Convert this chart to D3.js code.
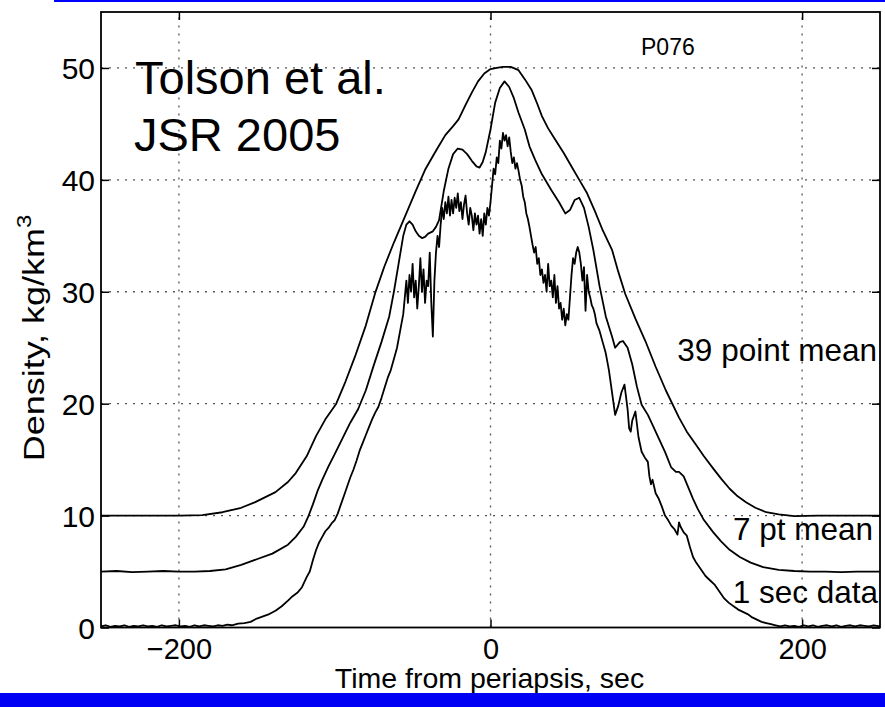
<!DOCTYPE html>
<html><head><meta charset="utf-8">
<script src="https://cdn.jsdelivr.net/npm/d3@7"></script>
<style>html,body{margin:0;padding:0;background:#fff;}svg{display:block;font-family:"Liberation Sans",Arial,Helvetica,sans-serif;}</style>
</head><body>
<svg id="c" width="885" height="707"></svg>
<script>
// ---- data ----
const xTicks = [-200, 0, 200];
const yTicks = [0, 10, 20, 30, 40, 50];
const xTickLabels = ["\u2212200", "0", "200"];
const yTickLabels = ["0", "10", "20", "30", "40", "50"];

// 1 sec data
const t1 = [-250,-247,-244,-241,-238,-235,-232,-229,-226,-223,-220,-217,-214,-211,-208,-205,-202,-199,-196,-193,-190,-187,-184,-181,-178,-175,-172,-169,-166,-162,-158,-154,-150,-146,-142,-138,-134,-130,-127,-124,-121,-118,-116,-114,-112,-110,-108,-106,-104,-102,-100,-98,-96,-94,-92,-90,-88,-86,-84,-82,-80,-78,-76,-74,-72,-70,-68,-66,-64,-62,-60,-58,-56,-55,-54,-53,-52,-51,-50,-49,-48,-47,-46,-45,-44,-43,-42,-41,-40,-39,-38,-37,-36,-35,-34,-33,-32,-31,-30,-29,-28,-27,-26,-25,-24,-23,-22,-21,-20,-19,-18,-17,-16,-15,-14,-13,-12,-11,-10,-9,-8,-7,-6,-5,-4,-3,-2,-1,0,1,2,3,4,5,6,7,8,9,10,11,12,13,14,15,16,17,18,19,20,21,22,23,24,25,26,27,28,29,30,31,32,33,34,35,36,37,38,39,40,41,42,43,44,45,46,47,48,49,50,51,52,53,54,55,56,57,58,59,60,61,62,63,64,65,66,67,68,70,72,74,76,78,80,82,84,86,88,89,90,91,93,95,97,99,101,102,103,104,106,108,110,112,114,116,118,120,121,122,124,126,128,130,132,135,138,141,144,147,150,153,156,159,162,165,168,171,174,177,180,183,186,189,192,195,198,201,204,207,210,213,216,219,222,225,228,231,234,237,240,243,246,250];
const v1 = [0.1,0.2,0.05,0.15,0.1,0.2,0.05,0.15,0.1,0.2,0.1,0.15,0.05,0.2,0.1,0.15,0.2,0.1,0.15,0.05,0.2,0.1,0.2,0.15,0.1,0.2,0.15,0.25,0.2,0.35,0.4,0.5,0.8,1.0,1.2,1.5,1.9,2.4,2.8,3.1,3.6,4.5,5.0,6.0,6.9,7.6,8.1,8.6,8.9,9.3,9.6,10.2,11.0,11.8,12.6,13.4,14.1,14.9,15.8,16.5,17.2,17.9,18.6,19.2,19.7,20.5,21.4,22.3,23.0,24.0,25.0,26.5,28.0,29.5,31.0,29.0,31.5,30.0,32.5,29.5,31.0,28.5,30.5,33.0,30.0,32.0,29.0,31.0,30.5,33.5,29.0,26.0,31.0,33.5,35.0,34.0,36.0,37.5,36.5,38.0,37.0,38.5,36.8,38.2,37.0,38.4,37.5,38.8,37.2,38.0,36.5,37.8,38.6,37.0,36.0,37.5,36.8,35.5,37.0,36.0,36.8,35.2,36.5,35.0,37.0,36.0,37.5,36.8,38.0,39.5,41.0,40.5,42.0,41.5,43.5,42.8,44.2,43.5,44.0,43.0,43.8,42.5,41.5,42.0,41.0,41.5,40.8,40.0,39.5,38.5,38.0,37.0,36.5,35.8,35.0,34.2,33.5,34.0,32.5,33.0,31.5,32.0,30.8,31.5,30.0,32.5,30.5,31.0,29.5,31.5,29.0,30.5,28.5,29.0,27.5,28.5,27.0,28.0,27.5,29.5,31.5,33.0,32.5,33.5,34.0,33.5,32.5,31.0,32.2,28.3,31.5,30.0,29.5,28.8,28.5,28.0,27.2,26.5,25.5,24.5,23.0,21.0,19.0,19.8,21.0,21.7,19.5,17.8,17.5,18.5,19.3,17.0,15.7,15.2,14.8,13.5,12.8,13.2,12.0,11.5,10.8,10.0,9.6,9.1,8.8,8.3,9.4,9.0,8.5,8.2,7.2,6.3,5.8,5.2,4.6,4.2,3.8,3.2,2.6,2.2,1.9,1.6,1.4,1.2,0.9,0.7,0.5,0.4,0.3,0.2,0.1,0.2,0.1,0.15,0.05,0.2,0.1,0.2,0.05,0.15,0.2,0.1,0.2,0.05,0.15,0.2,0.1,0.2,0.15,0.1,0.2,0.1];

// 7 pt mean (plotted with +5 offset as in the figure)
const t7 = [-250,-240,-230,-220,-210,-200,-190,-180,-170,-160,-150,-140,-130,-125,-120,-117,-114,-111,-108,-104,-100,-95,-90,-85,-80,-75,-70,-65,-62,-59,-56,-54,-52,-50,-48,-46,-44,-42,-40,-37,-35,-33,-30,-27,-24,-21,-18,-15,-12,-9,-7,-5,-3,0,3,6,9,12,15,18,22,25,28.6,33,39,44,48,51,54,57,60,63,66,70,74,78,80,83,85,88,91,94,97,101,104,108,112,116,119,121,124,127,130,133,137,143,148,153,160,167,175,185,195,205,215,225,235,250];
const v7 = [5.0,5.05,4.95,5.0,5.05,5.0,5.0,5.05,5.2,5.6,6.1,6.6,7.4,8.1,9.0,9.9,11.0,12.2,13.2,14.4,15.5,16.9,18.3,19.5,21.2,23.4,25.5,27.8,30.0,32.5,35.0,36.0,36.3,36.0,35.4,35.0,34.8,34.9,35.2,35.4,35.8,36.4,39.0,41.0,42.3,42.8,42.7,42.3,41.7,41.2,41.1,41.6,42.5,44.5,46.9,48.2,48.8,48.3,47.3,46.0,44.5,43.0,41.8,40.5,39.1,38.0,37.0,37.3,38.2,38.4,37.5,35.8,33.75,30.5,27.8,26.0,25.0,25.5,25.6,25.0,23.5,21.5,19.9,19.0,18.1,16.9,15.7,14.3,13.9,13.9,13.5,12.5,11.5,10.6,9.6,8.5,7.7,7.0,6.3,5.8,5.4,5.15,5.05,5.0,5.0,4.95,5.0,5.0];

// 39 point mean (plotted with +10 offset as in the figure)
const t39 = [-250,-200,-185,-172,-160,-151,-138,-130,-125,-118,-112,-106,-99,-93,-87,-80,-74,-68,-62,-55,-48,-42,-35,-29,-24,-20.5,-16,-12,-8,-4,0,4,8,13,18,22,26.5,30,33,37,41.5,47,52,57,62,67,72,78,82,86.5,93,99.4,106,112.5,121,126,132,137,143,148,153.5,158,164,170,177,185,195,210,250];
const v39 = [10,10,10.05,10.3,10.7,11.2,12.1,13.0,13.8,15.3,17.1,18.6,20.0,22.0,24.2,27.0,29.9,32.3,34.4,36.7,39.0,40.9,42.6,44.0,44.8,45.4,46.7,47.8,48.8,49.5,49.9,50.0,50.1,50.1,49.8,49.0,48.0,46.8,45.7,44.6,43.6,42.4,41.2,40.0,38.8,37.2,35.5,33.75,31.8,29.8,27.6,25.6,23.3,21.2,18.75,17.5,16.3,15.3,14.2,13.3,12.4,11.8,11.2,10.7,10.3,10.1,9.95,10.0,10.0];

const seriesLabels = ["39 point mean", "7 pt mean", "1 sec data"];

// ---- drawing ----
const svg = d3.select("#c");
const L = 101, R = 880, T = 12, B = 627.5;
const x = d3.scaleLinear().domain([-250, 250]).range([L, R]);
const y = d3.scaleLinear().domain([0, 55]).range([B, T]);

// grid
const grid = svg.append("g").attr("stroke", "#555").attr("stroke-width", 1.3).attr("stroke-dasharray", "2,6");
grid.selectAll("line.gx").data(xTicks).join("line")
  .attr("x1", d => x(d)).attr("x2", d => x(d)).attr("y1", B).attr("y2", T);
grid.selectAll("line.gy").data(yTicks.filter(d => d > 0)).join("line")
  .attr("x1", L).attr("x2", R).attr("y1", d => y(d)).attr("y2", d => y(d));

// curves
const line = d3.line().x(d => x(d[0])).y(d => y(d[1]));
const curves = [[t39, v39], [t7, v7], [t1, v1]];
svg.append("g").selectAll("path").data(curves).join("path")
  .attr("d", d => line(d[0].map((t, i) => [t, d[1][i]])))
  .attr("fill", "none").attr("stroke", "#000").attr("stroke-width", 1.8).attr("stroke-linejoin", "round");

// axes (MATLAB style: inward ticks on all four sides)
const tl = 8;
const axB = svg.append("g").attr("transform", `translate(0,${B})`)
  .call(d3.axisBottom(x).tickValues(xTicks).tickSize(-tl).tickFormat((d, i) => xTickLabels[i]));
const axT = svg.append("g").attr("transform", `translate(0,${T})`)
  .call(d3.axisTop(x).tickValues(xTicks).tickSize(-tl).tickFormat(""));
const axL = svg.append("g").attr("transform", `translate(${L},0)`)
  .call(d3.axisLeft(y).tickValues(yTicks).tickSize(-tl).tickFormat((d, i) => yTickLabels[i]));
const axR = svg.append("g").attr("transform", `translate(${R},0)`)
  .call(d3.axisRight(y).tickValues(yTicks).tickSize(-tl).tickFormat(""));
[axB, axT, axL, axR].forEach(a => {
  a.select(".domain").remove();
  a.selectAll("line").attr("stroke", "#000").attr("stroke-width", 1.5);
  a.selectAll("text").attr("fill", "#000").style("font-size", "30px").style("font-family", "'Liberation Sans',Arial,sans-serif");
});
axB.selectAll("text").attr("dy", 0).attr("y", 31.5).style("font-size", "29px");
axL.selectAll("text").attr("x", -6).attr("dy", "0.36em");

// frame
svg.append("rect").attr("x", L).attr("y", T).attr("width", R - L).attr("height", B - T)
  .attr("fill", "none").attr("stroke", "#000").attr("stroke-width", 1.8);

// axis titles
svg.append("text").attr("x", (L + R) / 2 - 1).attr("y", 688).attr("text-anchor", "middle")
  .style("font-size", "28.5px").text("Time from periapsis, sec");
const yl = svg.append("text").attr("transform", "translate(44,338) rotate(-90) scale(1.2,1)").attr("text-anchor", "middle")
  .style("font-size", "30px");
yl.append("tspan").text("Density, kg/km");
yl.append("tspan").attr("dy", -13).style("font-size", "20px").text("3");

// annotations
svg.append("text").attr("x", 641).attr("y", 55).style("font-size", "23px").text("P076");
svg.append("text").attr("x", 135).attr("y", 94).style("font-size", "47px").text("Tolson et al.");
svg.append("text").attr("x", 134).attr("y", 151).style("font-size", "47px").text("JSR 2005");
const lab = svg.append("g").style("font-size", "31.5px").attr("text-anchor", "end");
lab.append("text").attr("x", 877).attr("y", 361).text(seriesLabels[0]);
lab.append("text").attr("x", 873).attr("y", 540).text(seriesLabels[1]);
lab.append("text").attr("x", 878).attr("y", 603).text(seriesLabels[2]);

// blue slide decorations (on top)
svg.append("rect").attr("x", 54).attr("y", 0).attr("width", 831).attr("height", 2).attr("fill", "#0000ff");
svg.append("rect").attr("x", 0).attr("y", 693).attr("width", 885).attr("height", 14).attr("fill", "#0000f5");
</script>
</body></html>
